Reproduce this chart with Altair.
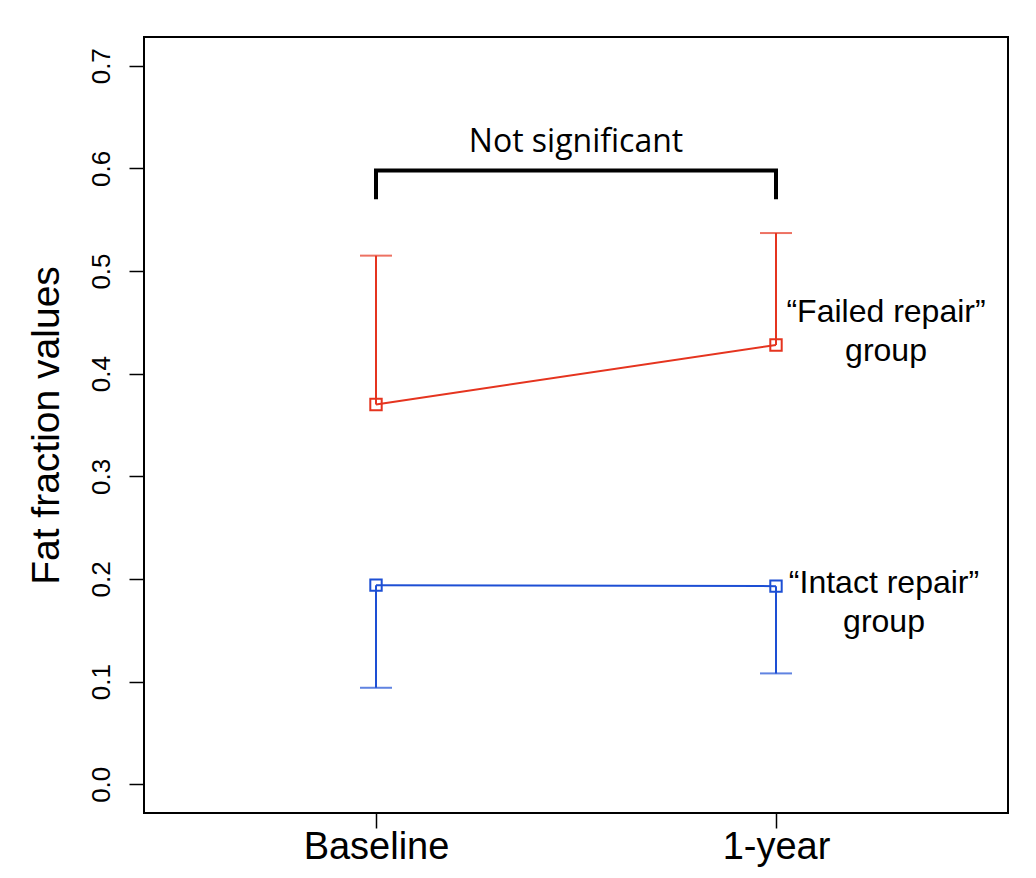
import altair as alt
import pandas as pd

# ---- data ----
timepoints = ["Baseline", "1-year"]
time_index = [1, 2]
failed_mean = [0.370, 0.428]
failed_upper = [0.515, 0.537]
intact_mean = [0.194, 0.193]
intact_lower = [0.094, 0.108]

bracket_low = 0.570
bracket_high = 0.598
sig_label = "Not significant"

RED = "#E5341F"
BLUE = "#1D4FD4"
FONT = "Liberation Sans"

failed = pd.DataFrame({"t": time_index, "mean": failed_mean, "err": failed_upper})
intact = pd.DataFrame({"t": time_index, "mean": intact_mean, "err": intact_lower})

bracket = pd.DataFrame({
    "t": [time_index[0], time_index[0], time_index[1], time_index[1]],
    "y": [bracket_low, bracket_high, bracket_high, bracket_low],
    "o": [0, 1, 2, 3],
})

group_labels = pd.DataFrame({
    "t": [2.275, 2.27],
    "y": [0.460, 0.1965],
    "label": ["\u201cFailed repair\u201d\ngroup", "\u201cIntact repair\u201d\ngroup"],
})
sig_df = pd.DataFrame({"t": [1.5], "y": [0.626], "label": [sig_label]})

label_expr = "datum.value == 1 ? '%s' : (datum.value == 2 ? '%s' : '')" % (timepoints[0], timepoints[1])

x_scale = alt.Scale(domain=[0.42, 2.58], nice=False, zero=False)
y_scale = alt.Scale(domain=[-0.028, 0.728], nice=False, zero=False)

x_enc = alt.X("t:Q", scale=x_scale, axis=alt.Axis(
    values=time_index, labelExpr=label_expr, title=None, grid=False, domain=False,
    tickSize=15, tickColor="black", tickWidth=1.5, labelFontSize=38, labelFont=FONT,
    labelColor="black", labelPadding=0))
y_enc = alt.Y("mean:Q", scale=y_scale, axis=alt.Axis(
    values=[0, 0.1, 0.2, 0.3, 0.4, 0.5, 0.6, 0.7], format=".1f",
    title="Fat fraction values", titleFontSize=39, titleFont=FONT, titleFontWeight="normal",
    titleColor="black", titlePadding=22, grid=False, domain=False,
    tickSize=15, tickColor="black", tickWidth=1.5, labelFontSize=26, labelFont=FONT,
    labelColor="black", labelAngle=270, labelAlign="center", labelBaseline="bottom",
    labelPadding=15))


def group_layers(df, color):
    base = alt.Chart(df)
    rule = base.mark_rule(color=color, strokeWidth=2).encode(x=x_enc, y=y_enc, y2="err:Q")
    cap = base.mark_tick(color=color, size=32, thickness=2, orient="horizontal").encode(
        x="t:Q", y="err:Q")
    line = base.mark_line(color=color, strokeWidth=2).encode(x="t:Q", y="mean:Q")
    pts = base.mark_square(size=130, filled=False, stroke=color, fill="white",
                           fillOpacity=0, strokeWidth=2, opacity=1).encode(
        x="t:Q", y="mean:Q")
    return [rule, cap, line, pts]


br = alt.Chart(bracket).mark_line(color="black", strokeWidth=4, strokeJoin="miter",
                                  strokeCap="butt").encode(
    x="t:Q", y=alt.Y("y:Q"), order="o:Q")

sig = alt.Chart(sig_df).mark_text(font="Open Sans", fontSize=32, color="black",
                                  align="center", baseline="middle").encode(
    x="t:Q", y="y:Q", text="label:N")

glab = alt.Chart(group_labels).mark_text(font=FONT, fontSize=32, color="black",
                                         align="center", baseline="middle",
                                         lineBreak="\n", lineHeight=39).encode(
    x="t:Q", y="y:Q", text="label:N")

chart = alt.layer(
    *group_layers(failed, RED), *group_layers(intact, BLUE), br, sig, glab
).properties(
    width=864, height=776,
    autosize=alt.AutoSizeParams(type="none"),
    padding={"left": 136, "top": 29, "right": 20, "bottom": 60},
    background="white",
).configure_view(stroke="black", strokeWidth=2)

chart.save("out.html", embed_options={"renderer": "svg", "actions": False})
